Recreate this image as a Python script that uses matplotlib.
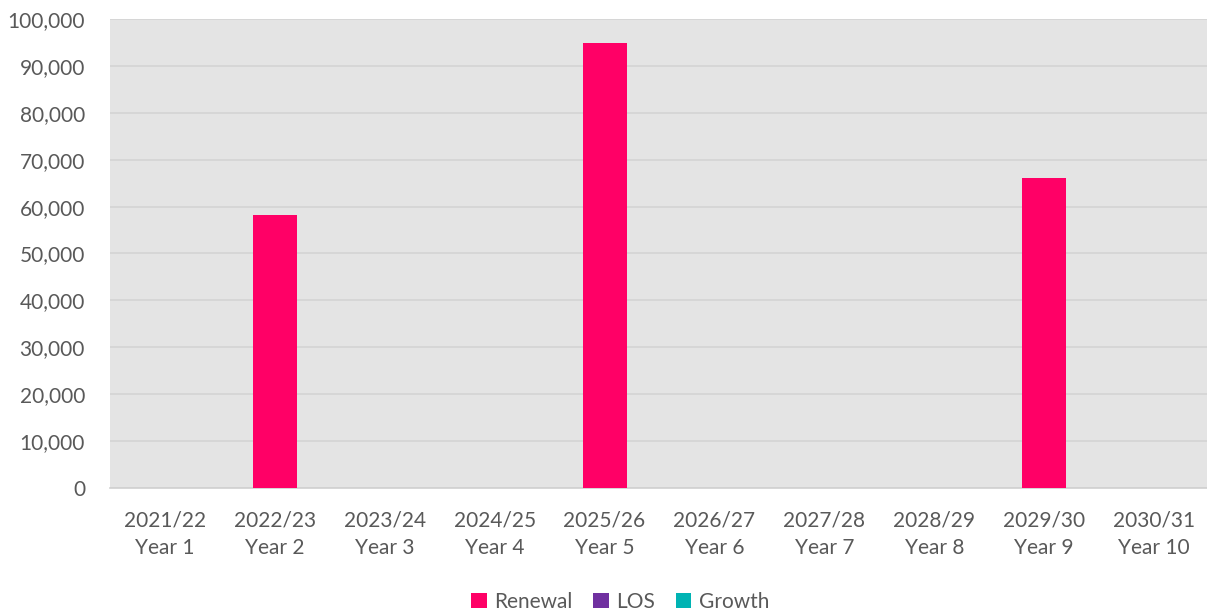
import matplotlib.pyplot as plt
import numpy as np
from matplotlib.ticker import FuncFormatter

# chart data
years = ["2021/22", "2022/23", "2023/24", "2024/25", "2025/26",
         "2026/27", "2027/28", "2028/29", "2029/30", "2030/31"]
year_nums = ["Year 1", "Year 2", "Year 3", "Year 4", "Year 5",
             "Year 6", "Year 7", "Year 8", "Year 9", "Year 10"]
renewal = [0, 58200, 0, 0, 94900, 0, 0, 0, 66100, 0]
los = [0, 0, 0, 0, 0, 0, 0, 0, 0, 0]
growth = [0, 0, 0, 0, 0, 0, 0, 0, 0, 0]

plt.rcParams['font.family'] = ['Lato', 'DejaVu Sans']
text_col = '#595959'

fig = plt.figure(figsize=(12.07, 6.11), dpi=100)
ax = fig.add_axes([110 / 1207, 1 - 488 / 611, 1099 / 1207, 469 / 611])
ax.set_facecolor('#E4E4E4')

x = np.arange(len(years))
w = 0.4
ax.bar(x, renewal, w, color='#FF0066', label='Renewal', zorder=3)
ax.bar(x, los, w, bottom=renewal, color='#7030A0', label='LOS', zorder=3)
base = np.array(renewal) + np.array(los)
ax.bar(x, growth, w, bottom=base, color='#00B3B3', label='Growth', zorder=3)

ax.set_xlim(-0.5, len(years) - 0.5)
ax.set_ylim(0, 100000)
ax.set_yticks(range(0, 100001, 10000))
ax.yaxis.set_major_formatter(FuncFormatter(lambda v, p: f"{int(v):,}"))
ax.set_xticks(x)
ax.set_xticklabels([f"{a}\n{b}" for a, b in zip(years, year_nums)],
                   linespacing=1.5)
ax.grid(axis='y', color='#D4D4D4', linewidth=1.2, zorder=1)
ax.tick_params(axis='both', length=0, labelsize=15, colors=text_col)
ax.tick_params(axis='x', pad=16)
ax.tick_params(axis='y', pad=18)
for s in ['top', 'right', 'left']:
    ax.spines[s].set_visible(False)
ax.spines['bottom'].set_color('#D0D0D0')
ax.spines['bottom'].set_linewidth(1.2)

leg = fig.legend(loc='center', bbox_to_anchor=(620 / 1207, 1 - 602 / 611), ncol=3,
                 frameon=False, fontsize=15, handlelength=0.75, handleheight=0.75,
                 handletextpad=0.35, columnspacing=1.0)
for t in leg.get_texts():
    t.set_color(text_col)

fig.savefig('out.png', dpi=100)
